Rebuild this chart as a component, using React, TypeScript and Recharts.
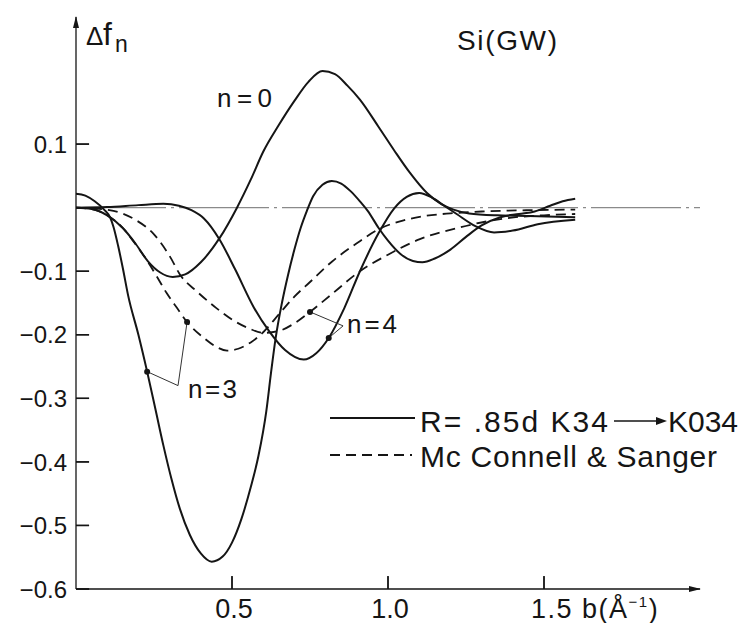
import React from 'react';
import { LineChart, Line, XAxis, YAxis, ReferenceLine, ReferenceDot } from 'recharts';

// b (1/Å) vs Δf_n
const n0Solid: [number, number][] = [
  [0, 0], [0.05, -0.002], [0.1, -0.012], [0.15, -0.032], [0.19, -0.056], [0.23, -0.084],
  [0.27, -0.102], [0.31, -0.109], [0.35, -0.105], [0.4, -0.086], [0.46, -0.048], [0.516, 0],
  [0.56, 0.044], [0.6, 0.088], [0.65, 0.13], [0.7, 0.168], [0.745, 0.198], [0.79, 0.215],
  [0.83, 0.21], [0.87, 0.192], [0.91, 0.17], [0.97, 0.127], [1.02, 0.09], [1.07, 0.055],
  [1.125, 0.023], [1.17, 0.006], [1.21, -0.003], [1.26, -0.009], [1.35, -0.012], [1.45, -0.013],
  [1.6, -0.015],
];

const n3Solid: [number, number][] = [
  [0, 0.022], [0.03, 0.019], [0.06, 0.01], [0.09, -0.003], [0.11, -0.016], [0.12, -0.03],
  [0.135, -0.06], [0.15, -0.095], [0.167, -0.138], [0.2, -0.2], [0.228, -0.258], [0.255, -0.318],
  [0.28, -0.374], [0.305, -0.425], [0.333, -0.474], [0.365, -0.515], [0.4, -0.544], [0.435, -0.557],
  [0.47, -0.549], [0.5, -0.527], [0.53, -0.49], [0.56, -0.44], [0.585, -0.39], [0.61, -0.32],
  [0.625, -0.26], [0.64, -0.205], [0.66, -0.15], [0.68, -0.105], [0.7, -0.066], [0.72, -0.032],
  [0.74, -0.005], [0.76, 0.018], [0.79, 0.036], [0.82, 0.042], [0.85, 0.038], [0.88, 0.026],
  [0.91, 0.01], [0.935, -0.005], [0.97, -0.032], [1.0, -0.052], [1.04, -0.073], [1.08, -0.084],
  [1.11, -0.086], [1.15, -0.08], [1.2, -0.066], [1.25, -0.046], [1.3, -0.028], [1.36, -0.015],
  [1.42, -0.01], [1.47, -0.006], [1.52, 0.003], [1.56, 0.01], [1.6, 0.014],
];

const n4Solid: [number, number][] = [
  [0, 0], [0.1, 0.001], [0.2, 0.004], [0.28, 0.006], [0.33, 0.003], [0.37, -0.004], [0.41, -0.017],
  [0.46, -0.05], [0.51, -0.097], [0.57, -0.157], [0.62, -0.195], [0.67, -0.224], [0.73, -0.239],
  [0.77, -0.229], [0.81, -0.205], [0.86, -0.158], [0.91, -0.1], [0.97, -0.04], [1.02, -0.001],
  [1.06, 0.017], [1.1, 0.023], [1.14, 0.016], [1.18, 0.003], [1.22, -0.01], [1.28, -0.029],
  [1.34, -0.039], [1.4, -0.036], [1.48, -0.026], [1.6, -0.019],
];

const n3Dashed: [number, number][] = [
  [0, 0], [0.05, -0.002], [0.1, -0.012], [0.15, -0.032], [0.19, -0.057], [0.23, -0.085],
  [0.26, -0.109], [0.29, -0.134], [0.324, -0.158], [0.356, -0.18], [0.41, -0.205], [0.45, -0.219],
  [0.484, -0.225], [0.52, -0.222], [0.56, -0.212], [0.6, -0.196], [0.65, -0.168], [0.7, -0.14],
  [0.75, -0.117], [0.82, -0.085], [0.9, -0.056], [0.97, -0.034], [1.05, -0.02], [1.12, -0.013],
  [1.2, -0.009], [1.3, -0.006], [1.45, -0.004], [1.6, -0.003],
];

const n4Dashed: [number, number][] = [
  [0, 0], [0.05, -0.001], [0.12, -0.005], [0.19, -0.019], [0.25, -0.042], [0.3, -0.076],
  [0.333, -0.105], [0.39, -0.133], [0.45, -0.158], [0.5, -0.176], [0.55, -0.189], [0.6, -0.197],
  [0.65, -0.194], [0.7, -0.182], [0.75, -0.164], [0.82, -0.136], [0.91, -0.1], [1.0, -0.074],
  [1.1, -0.05], [1.23, -0.031], [1.39, -0.016], [1.5, -0.012], [1.6, -0.01],
];

// leader lines from the "n=3" / "n=4" labels to the curves
const n3Pointer: [number, number][] = [[0.228, -0.258], [0.327, -0.28], [0.356, -0.18]];
const n4Pointer: [number, number][] = [[0.75, -0.164], [0.856, -0.186], [0.81, -0.205]];

const xTicks = [0.5, 1.0, 1.5];
const yTicks = [0.1, -0.1, -0.2, -0.3, -0.4, -0.5, -0.6];

const X_MIN = 0;
const Y_MIN = -0.6;
// inward tick length, in data units (~13px)
const X_TICK_LEN = 0.02;
const Y_TICK_LEN = 0.042;

const FONT = '"Liberation Sans", Arial, sans-serif';
const INK = '#151515';

const toPoints = (arr: [number, number][]) => arr.map(([b, f]) => ({ b, f }));

// tickSize is negative (ticks point inward), so x here is the inner end of the tick
const YTick = (props: any) => {
  const { x, y, payload } = props;
  const v: number = payload.value;
  const label = v < 0 ? '\u2212' + Math.abs(v).toFixed(1) : v.toFixed(1);
  return (
    <text x={x - 22} y={y} dy="0.36em" textAnchor="end" fontSize={24} fill={INK} fontFamily={FONT}>
      {label}
    </text>
  );
};

const XTick = (props: any) => {
  const { x, y, payload } = props;
  const v: number = payload.value;
  return v === 1.5 ? (
    <text x={x - 13} y={y + 42} fontSize={27} fill={INK} fontFamily={FONT} letterSpacing={1.5}>
      1.5 b(Å<tspan dy={-11} fontSize={15}>{'\u2212'}1</tspan>
      <tspan dy={11}>)</tspan>
    </text>
  ) : (
    <text x={x + 2} y={y + 42} textAnchor="middle" fontSize={27} fill={INK} fontFamily={FONT}>
      {v.toFixed(1)}
    </text>
  );
};

export default function App() {
  const solid = { stroke: INK, strokeWidth: 2, dot: false, type: 'monotone' as const, isAnimationActive: false };
  const dashed = { ...solid, strokeWidth: 1.8, strokeDasharray: '10 6' };

  return (
    <div style={{ position: 'absolute', left: 0, top: 0, width: 745, height: 623, background: '#fff' }}>
      <LineChart width={745} height={623} margin={{ top: 17, right: 45, bottom: 4, left: 16 }}>
        <defs>
          <marker id="axArrow" viewBox="0 0 12 8" refX="11" refY="4" markerWidth="12" markerHeight="8"
            markerUnits="userSpaceOnUse" orient="auto-start-reverse">
            <path d="M0,1 L12,4 L0,7 Z" fill={INK} />
          </marker>
        </defs>
        <XAxis
          type="number"
          dataKey="b"
          domain={[0, 2]}
          ticks={xTicks}
          allowDataOverflow
          height={30}
          tickSize={-13}
          tickMargin={0}
          tickLine={{ stroke: INK, strokeWidth: 1.4 }}
          tick={<XTick />}
          axisLine={{ stroke: INK, strokeWidth: 1.3, markerEnd: 'url(#axArrow)' }}
        />
        <YAxis
          type="number"
          dataKey="f"
          domain={[-0.6, 0.3]}
          ticks={yTicks}
          allowDataOverflow
          width={60}
          tickSize={-13}
          tickMargin={0}
          tickLine={{ stroke: INK, strokeWidth: 1.4 }}
          tick={<YTick />}
          axisLine={{ stroke: INK, strokeWidth: 1.3, markerStart: 'url(#axArrow)' }}
        />
        <ReferenceLine y={0} stroke="#8a8a8a" strokeWidth={1.4} strokeDasharray="90 5 3 5" />

        {yTicks.map((v) => (
          <ReferenceLine key={'yt' + v} ifOverflow="visible"
            segment={[{ x: X_MIN, y: v }, { x: X_MIN + Y_TICK_LEN, y: v }]}
            stroke={INK} strokeWidth={1.4} />
        ))}
        {xTicks.map((v) => (
          <ReferenceLine key={'xt' + v} ifOverflow="visible"
            segment={[{ x: v, y: Y_MIN }, { x: v, y: Y_MIN + X_TICK_LEN }]}
            stroke={INK} strokeWidth={1.4} />
        ))}

        <Line data={toPoints(n0Solid)} dataKey="f" {...solid} />
        <Line data={toPoints(n3Solid)} dataKey="f" {...solid} />
        <Line data={toPoints(n4Solid)} dataKey="f" {...solid} />
        <Line data={toPoints(n3Dashed)} dataKey="f" {...dashed} />
        <Line data={toPoints(n4Dashed)} dataKey="f" {...dashed} />

        {[n3Pointer, n4Pointer].map((p, i) => (
          <ReferenceLine
            key={'seg' + i}
            segment={p.slice(0, 2).map(([x, y]) => ({ x, y }))}
            stroke="#333"
            strokeWidth={1}
          />
        ))}
        {[n3Pointer, n4Pointer].map((p, i) => (
          <ReferenceLine
            key={'seg2' + i}
            segment={p.slice(1, 3).map(([x, y]) => ({ x, y }))}
            stroke="#333"
            strokeWidth={1}
          />
        ))}
        {[n3Pointer[0], n3Pointer[2], n4Pointer[0], n4Pointer[2]].map(([x, y], i) => (
          <ReferenceDot key={'dot' + i} x={x} y={y} r={3} fill={INK} stroke="none" />
        ))}
      </LineChart>

      <svg width={745} height={623} style={{ position: 'absolute', left: 0, top: 0, pointerEvents: 'none' }}
        fontFamily={FONT} fill={INK}>
        <text x={86} y={45} fontSize={26} fontWeight={300}>Δ</text>
        <text x={103} y={45} fontSize={32}>f</text>
        <text x={115} y={52} fontSize={23}>n</text>

        <text x={457} y={50} fontSize={28} textLength={100} lengthAdjust="spacing">Si(GW)</text>

        <text x={217} y={107} fontSize={26} textLength={55} lengthAdjust="spacing">n=0</text>
        <text x={188} y={398} fontSize={26} textLength={49} lengthAdjust="spacing">n=3</text>
        <text x={347} y={333} fontSize={26} textLength={50} lengthAdjust="spacing">n=4</text>

        <line x1={330} x2={415} y1={418} y2={418} stroke={INK} strokeWidth={2} />
        <text x={420} y={432} fontSize={30} textLength={188} lengthAdjust="spacing">R= .85d K34</text>
        <line x1={614} x2={658} y1={421} y2={421} stroke={INK} strokeWidth={1.5} />
        <path d="M656,417 L667,421 L656,425 Z" fill={INK} />
        <text x={668} y={432} fontSize={30} textLength={70} lengthAdjust="spacing">K034</text>

        <line x1={330} x2={412} y1={455} y2={455} stroke={INK} strokeWidth={1.8} strokeDasharray="10 6" />
        <text x={420} y={467} fontSize={30} textLength={297} lengthAdjust="spacing">Mc Connell &amp; Sanger</text>
      </svg>
    </div>
  );
}
